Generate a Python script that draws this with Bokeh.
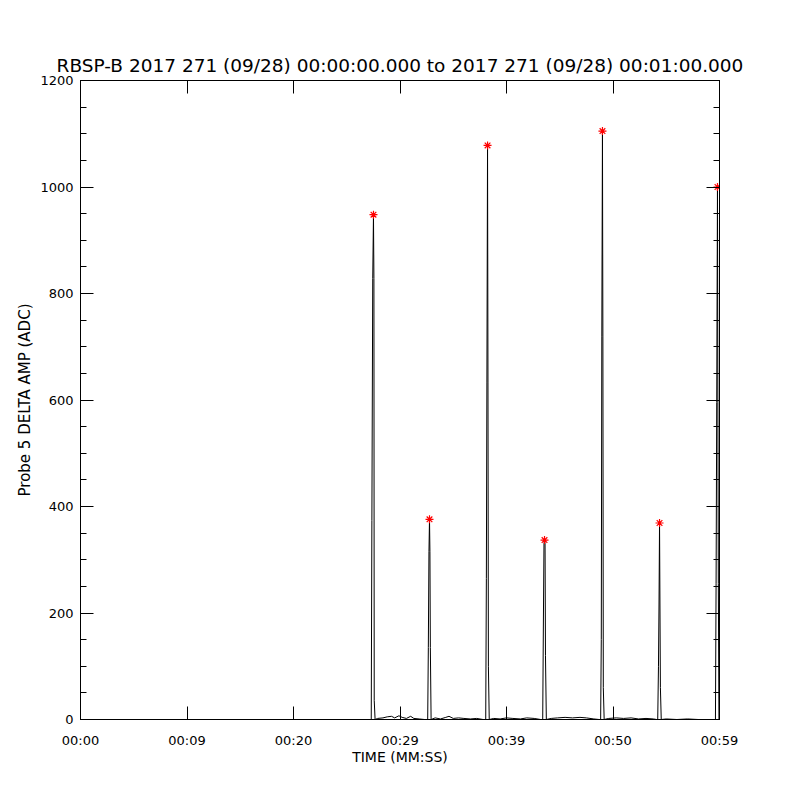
from bokeh.plotting import figure
from bokeh.models import LinearAxis, FixedTicker, Range1d
from bokeh.embed import file_html
from bokeh.resources import INLINE

# ---- data (seconds after 00:00:00, ADC amplitude) ----
time_s = [0.0,
          27.30, 27.36, 27.44, 27.51, 27.55, 27.58, 27.66,
          27.9, 28.4, 28.8, 29.2, 29.5, 29.9, 30.2, 30.6, 31.0, 31.3, 31.8, 32.3,
          32.60, 32.66, 32.72, 32.77, 32.81, 32.85, 32.92,
          33.3, 33.8, 34.3, 34.6, 35.0, 35.5, 36.0, 36.6, 37.2, 37.8,
          38.05, 38.11, 38.16, 38.22, 38.26, 38.30, 38.38,
          38.8, 39.4, 40.0, 40.6, 41.3, 41.9, 42.6, 43.2,
          43.40, 43.47, 43.52, 43.57, 43.62, 43.66, 43.74,
          44.2, 44.8, 45.5, 46.2, 46.9, 47.5, 48.2, 48.7,
          48.84, 48.90, 48.95, 49.01, 49.05, 49.09, 49.17,
          49.6, 50.3, 51.0, 51.7, 52.4, 53.1, 53.8, 54.1,
          54.20, 54.27, 54.32, 54.37, 54.41, 54.45, 54.53,
          55.0, 56.0, 57.0, 58.0, 59.3,
          59.62, 59.68, 59.74, 59.81, 59.85, 59.89, 59.95, 60.0]
amp_adc = [0,
           0, 374, 828, 948, 828, 36, 0,
           2, 3, 5, 6, 3, 7, 4, 2, 6, 2, 1, 0,
           0, 135, 315, 376, 315, 135, 0,
           3, 1, 4, 6, 2, 3, 2, 1, 2, 0,
           0, 265, 632, 1078, 632, 100, 0,
           2, 1, 3, 2, 1, 3, 2, 0,
           0, 200, 330, 337, 330, 120, 0,
           2, 3, 4, 3, 4, 3, 1, 0,
           0, 150, 720, 1105, 720, 60, 0,
           2, 3, 2, 3, 1, 2, 1, 0,
           0, 100, 215, 369, 215, 60, 0,
           1, 0, 1, 0, 0,
           0, 255, 595, 1000, 595, 255, 0, 0]

peak_t = [27.51, 32.77, 38.22, 43.57, 49.01, 54.37, 59.81]
peak_v = [948, 376, 1078, 337, 1105, 369, 1000]

x_ticks = [0, 10, 20, 30, 40, 50, 60]
x_tick_labels = ["00:00", "00:09", "00:20", "00:29", "00:39", "00:50", "00:59"]
y_ticks = [0, 200, 400, 600, 800, 1000, 1200]
y_minor = [v for v in range(0, 1201, 50)]

TITLE = "RBSP-B 2017 271 (09/28) 00:00:00.000 to 2017 271 (09/28) 00:01:00.000"
FONT = "DejaVu Sans"

p = figure(width=792, height=792, output_backend="svg", toolbar_location=None,
           x_range=Range1d(0, 60), y_range=Range1d(0, 1200),
           min_border_left=80, min_border_right=73, min_border_top=80, min_border_bottom=73,
           title=TITLE)
p.title.align = "center"
p.title.text_font = FONT
p.title.text_font_style = "normal"
p.title.text_font_size = "18.5px"
p.title.text_color = "black"
p.title.standoff = 9

p.xgrid.visible = False
p.ygrid.visible = False
p.outline_line_color = "black"
p.outline_line_width = 1
p.background_fill_color = "white"
p.border_fill_color = "white"

xt = FixedTicker(ticks=x_ticks, minor_ticks=[])
yt = FixedTicker(ticks=y_ticks, minor_ticks=y_minor)

def style_axis(ax, labels=True):
    ax.axis_line_color = "black"
    ax.major_tick_line_color = "black"
    ax.minor_tick_line_color = "black"
    ax.major_tick_in = 13
    ax.major_tick_out = 0
    ax.minor_tick_in = 6
    ax.minor_tick_out = 0
    ax.major_label_text_font = FONT
    ax.major_label_text_font_size = "13px"
    ax.major_label_text_color = "black"
    ax.axis_label_text_font = FONT
    ax.axis_label_text_font_style = "normal"
    ax.axis_label_text_font_size = "14px"
    ax.axis_label_text_color = "black"
    if not labels:
        ax.major_label_text_alpha = 0
        ax.major_label_text_font_size = "1px"

xa = p.xaxis[0]
xa.ticker = xt
xa.major_label_overrides = {t: l for t, l in zip(x_ticks, x_tick_labels)}
style_axis(xa)
xa.major_label_standoff = 13
xa.axis_label = "TIME (MM:SS)"
xa.axis_label_standoff = -2

ya = p.yaxis[0]
ya.ticker = yt
style_axis(ya)
ya.major_label_standoff = 7
ya.axis_label = "Probe 5 DELTA AMP (ADC)"
ya.axis_label_text_font_size = "15px"
ya.axis_label_standoff = 3

ra = LinearAxis(ticker=FixedTicker(ticks=y_ticks, minor_ticks=y_minor))
style_axis(ra, labels=False)
p.add_layout(ra, "right")
ta = LinearAxis(ticker=FixedTicker(ticks=x_ticks, minor_ticks=[]))
style_axis(ta, labels=False)
p.add_layout(ta, "above")

p.line(time_s, amp_adc, line_color="black", line_width=1)
p.scatter(peak_t, peak_v, marker="asterisk", size=8, line_color="red", line_width=1.2)

open("out.html", "w").write(file_html(p, INLINE))
